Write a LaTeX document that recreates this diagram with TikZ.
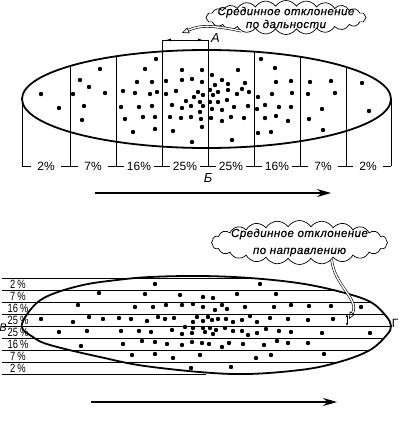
\documentclass[tikz,border=0pt]{standalone}
\usepackage{fontspec}
\setmainfont{Liberation Sans}
\newfontfamily\cloudfont{Liberation Sans}[LetterSpace=4, FakeBold=0.4]
\newfontfamily\narrowfont{Liberation Sans}[FakeStretch=0.78]
\usetikzlibrary{arrows.meta,shapes.symbols,positioning}

\begin{document}
\begin{tikzpicture}[x=1pt, y=-1pt,
    outline/.style={line width=1.8pt},
    divider/.style={line width=0.8pt},
    pct/.style={fill=white, inner sep=0pt, minimum width=30pt, minimum height=11pt, font=\fontsize{12}{12}\selectfont},
    rowpct/.style={inner sep=0pt, font=\narrowfont\fontsize{12}{12}\selectfont},
    letter/.style={inner sep=0pt, font=\itshape\fontsize{13}{13}\selectfont},
    callout/.style={draw, cloud, cloud puffs=24, cloud puff arc=115, cloud ignores aspect, inner sep=0pt, line width=0.7pt},
    callouttext/.style={inner sep=0pt, align=center},
    tail/.style={double distance=1.4pt, line width=0.6pt, -{Triangle[open, length=7pt, width=6pt]}},
    heading/.style={-{Stealth[length=14pt, width=8pt]}, line width=1.8pt},
    gauge/.style={divider, {Latex[length=5pt, width=3pt]}-{Latex[length=5pt, width=3pt]}}
]
\useasboundingbox (0,0) rectangle (400,429);

% ---------- Range dispersion (top) ----------
\draw[outline] (206.5,99) ellipse [x radius=184.5pt, y radius=49pt];

% Dividers of the range strips
\foreach \x in {22,70,116,162,208,254,300,346,391}
    \draw[divider] (\x,99) -- (\x,166);
\begin{scope}
    \clip (206.5,99) ellipse [x radius=184.5pt, y radius=49pt];
    \foreach \x in {70,116,254,300,346}
        \draw[divider] (\x,40) -- (\x,99);
\end{scope}
\coordinate (mA1) at (162,40);
\coordinate (mA2) at (208,40);
\draw[divider] (mA1) -- (162,99);
\draw[divider] (mA2) -- (208,99);
\draw[divider] (mA1) -- (mA2);
\draw[gauge] ([xshift=4pt]mA1) -- ([xshift=-5pt]mA2);
\node[letter, anchor=west] (lblA) at (211,38) {А};

% Shots
\foreach \x/\y in {41/94,59/108,
    100/69,80/80,89/87,73/94,105/93,84/106,82/120,
    156/59,145/69,137/82,152/82,123/91,135/93,150/94,157/92,121/107,139/107,152/106,125/119,143/117,155/117,133/132,155/129,
    182/70,202/70,166/81,182/80,192/79,202/82,166/94,176/91,198/92,203/95,194/97,186/101,172/105,191/106,200/102,203/106,182/108,170/117,181/118,191/117,200/112,201/119,202/127,173/131,192/142,
    238/70,212/75,222/80,215/85,228/84,245/83,210/90,218/92,228/90,237/94,242/89,249/92,213/95,210/102,218/102,227/100,234/107,248/106,212/109,222/110,211/118,222/121,231/117,244/118,232/140,
    261/59,275/68,276/82,291/81,258/97,272/94,292/93,265/105,279/107,291/107,257/109,265/118,276/116,288/121,258/133,271/132,
    310/82,331/81,308/94,335/93,322/109,309/119,323/130,
    362/83,369/111}
    \fill (\x,\y) circle (2.2pt);

% Percentages of the strips
\draw[divider] (22,166) -- (391,166);
\foreach \x/\p [count=\i] in {46/2,93/7,139/16,185/25,231/25,277/16,323/7,368/2}
    \node[pct] (rp\i) at (\x,166) {\p\%};
\node[letter] (lblB) at (208,178) {Б};

\coordinate (r1) at (95,193);
\coordinate (r2) at (331,193);
\draw[heading] (r1) -- (r2);

% Callout
\node[callout, minimum width=160pt, minimum height=34pt] (dalcloud) at (286,17.5) {};
\node[callouttext, font=\cloudfont\itshape\fontsize{11.5}{13}\selectfont] (daltext) at (dalcloud.center)
    {Срединное отклонение\\по дальности};
\coordinate (dtip) at (182,33);
\draw[tail] (dalcloud.197) .. controls (208,24) and (198,26) .. (dtip);

% ---------- Lateral dispersion (bottom) ----------
\def\lateral{plot[smooth cycle, tension=0.6] coordinates {
    (21.7,326) (33,306.7) (50,295) (83,285) (117,280) (150,277) (200,276)
    (250,278) (300,283.3) (340,291.7) (370,301.7) (386,316) (391,326)
    (386.7,335) (370,350) (340,361.7) (300,370) (233,374) (150,366.7)
    (100,357) (50,345) (33,337)}}
\draw[outline] \lateral;

% Dividers of the lateral strips
\foreach \y in {278,290,302,314,326,338,350,362,374}
    \draw[divider] (2,\y) -- (206,\y);
\begin{scope}
    \clip \lateral;
    \foreach \y in {278,290,302,314,326,338,350,362,374}
        \draw[divider] (206,\y) -- (400,\y);
\end{scope}

% Shots
\foreach \x/\y in {155/284,260/284,
    99/293,145/294,180/295,203/297,213/298,237/294,276/294,
    78/305,135/307,153/307,166/305,182/305,193/304,203/307,222/305,227/309,215/310,245/307,274/307,291/305,309/306,331/306,361/307,
    41/319,73/322,89/317,103/319,119/318,131/319,147/321,158/317,165/319,174/318,193/322,197/317,203/321,208/317,212/320,218/319,226/319,233/322,242/320,250/316,257/322,270/318,288/319,308/320,333/319,
    59/332,87/331,121/331,139/331,151/332,172/330,182/334,185/327,192/333,193/328,203/328,210/328,205/332,216/330,225/328,213/334,233/331,242/331,248/335,257/333,266/329,279/331,291/332,322/333,370/333,
    81/346,123/344,142/341,155/342,167/344,182/345,192/342,202/343,209/344,222/347,229/343,243/344,264/345,277/341,288/343,308/343,
    132/355,155/354,173/358,200/355,256/358,271/355,324/354,
    191/368,231/367}
    \fill (\x,\y) circle (2.2pt);

% Percentages of the strips
\foreach \y/\p [count=\i] in {284/2,296/7,308/16,320/25,332/25,344/16,356/7,368/2}
    \node[rowpct] (lp\i) at (18,\y) {\p\,\%};
\node[letter, font=\itshape\fontsize{11}{11}\selectfont] (lblV) at (3,328) {В};
\node[letter, font=\fontsize{12}{12}\selectfont] (lblG) at (395,323) {Г};

\coordinate (g1) at (347,314);
\coordinate (g2) at (347,326);
\draw[{Latex[length=3pt, width=2.5pt]}-{Latex[length=3pt, width=2.5pt]}, line width=0.6pt] (g1) -- (g2);

\coordinate (d1) at (91,402);
\coordinate (d2) at (337,402);
\draw[heading] (d1) -- (d2);

% Callout
\node[callout, minimum width=176pt, minimum height=44pt] (napcloud) at (299.5,242.5) {};
\node[callouttext, font=\cloudfont\itshape\fontsize{11.5}{17}\selectfont] (naptext) at (napcloud.center)
    {Срединное отклонение\\по направлению};
\coordinate (ntip) at (349,319);
\draw[tail] (napcloud.-28) .. controls (334,285) and (360,300) .. (ntip);

\end{tikzpicture}
\end{document}
